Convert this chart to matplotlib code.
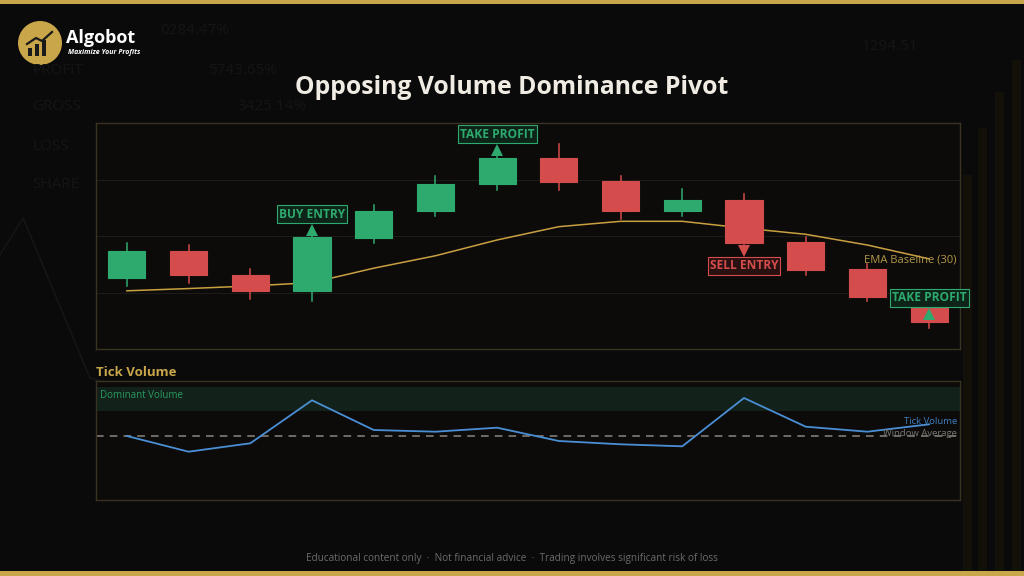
import matplotlib
matplotlib.use("Agg")
import matplotlib.pyplot as plt
from matplotlib.patches import Rectangle, Circle
import numpy as np

# ---------------- data ----------------
opens  = [98.52, 99.48, 98.63, 98.05, 99.94, 100.88, 101.83, 102.77, 101.95, 100.88, 101.27, 99.78, 98.83, 97.56]
closes = [99.48, 98.62, 98.05, 99.95, 100.90, 101.84, 102.77, 101.92, 100.88, 101.27, 99.75, 98.81, 97.85, 96.95]
highs  = [99.76, 99.67, 98.83, 100.14, 101.10, 102.12, 102.97, 103.25, 102.12, 101.66, 101.48, 99.95, 99.01, 98.06]
lows   = [98.24, 98.34, 97.77, 97.70, 99.76, 100.70, 101.64, 101.64, 100.61, 100.70, 99.70, 98.62, 97.70, 96.75]
ema    = [98.06, 98.14, 98.23, 98.35, 98.86, 99.30, 99.86, 100.33, 100.52, 100.52, 100.28, 100.06, 99.68, 99.19]

tick_volume = [640, 483, 567, 997, 700, 683, 723, 590, 557, 537, 1020, 733, 683, 757]
window_average = 643
dominant_band = [893, 1130]

sig_idx    = [3, 6, 10, 13]
sig_text   = ["BUY ENTRY", "TAKE PROFIT", "SELL ENTRY", "TAKE PROFIT"]
sig_dir    = ["up", "up", "down", "up"]
sig_price  = [100.21, 103.04, 99.47, 97.24]

title = "Opposing Volume Dominance Pivot"
footer = "Educational content only  \u00b7  Not financial advice  \u00b7  Trading involves significant risk of loss"

# ---------------- style ----------------
BG = "#0a0a0a"
PANEL = "#0c0b0a"
EDGE = "#3a3322"
GREEN = "#2eaa6e"
RED = "#d44c4c"
GOLD = "#c9a64a"
BLUE = "#4a8fd4"

plt.rcParams['font.family'] = ['Open Sans', 'DejaVu Sans']

W, H = 1024, 576
fig = plt.figure(figsize=(W / 100, H / 100), dpi=100, facecolor=BG)

# background decoration layer
bg = fig.add_axes([0, 0, 1, 1])
bg.set_xlim(0, W)
bg.set_ylim(H, 0)
bg.axis("off")
bg.set_facecolor(BG)
deco = "#151515"
for txt, x, y in [("PROFIT", 32, 70), ("GROSS", 32, 107), ("LOSS", 32, 146), ("SHARE", 32, 184),
                  ("0284.47%", 160, 30), ("5743.65%", 208, 70), ("3425.14%", 237, 107), ("1294.51", 862, 46)]:
    bg.text(x, y, txt, color=deco, fontsize=11, va="center", ha="left")
bg.plot([0, 23, 90, 105], [255, 218, 378, 382], color="#151515", lw=1.2)
for bx, btop in [(963, 175), (978, 128), (995, 92), (1012, 60)]:
    bg.add_patch(Rectangle((bx, btop), 9, 576 - btop, color="#13100a", lw=0))
# gold bars
bg.add_patch(Rectangle((0, 0), W, 4, color=GOLD, lw=0))
bg.add_patch(Rectangle((0, 571), W, 5, color=GOLD, lw=0))

# logo
bg.add_patch(Circle((40, 43), 22, color=GOLD, lw=0))
for i, hgt in enumerate([8, 12, 16]):
    bg.add_patch(Rectangle((28 + i * 7, 56 - hgt), 4, hgt, color="#1a1a1a", lw=0))
bg.plot([27, 36, 42, 52], [44, 38, 41, 32], color="#1a1a1a", lw=1.6)
bg.text(66, 38, "Algobot", color="white", fontsize=13, fontweight="bold", va="center", ha="left")
bg.text(68, 53, "Maximize Your Profits", color="white", fontsize=5.0, fontstyle="italic",
        fontweight="bold", va="center", ha="left")

bg.text(512, 88, title, color="#f0ece4", fontsize=17.8, fontweight="bold", ha="center", va="center")
bg.text(512, 558, footer, color="#6b6b6b", fontsize=7.2, ha="center", va="center")
bg.text(96, 373, "Tick Volume", color=GOLD, fontsize=9.5, fontweight="bold", ha="left", va="center")

# ---------------- price panel ----------------
ax = fig.add_axes([96 / W, 1 - 349 / H, 864 / W, 226 / H])
ax.set_facecolor(PANEL)
n = len(opens)
x = np.arange(n)
ax.set_xlim(-0.5, n - 0.5)
ax.set_ylim(96, 104)
for s in ax.spines.values():
    s.set_color(EDGE)
    s.set_linewidth(1)
ax.set_xticks([])
ax.set_yticks([98, 100, 102])
ax.tick_params(left=False, labelleft=False)
ax.grid(axis="y", color="#1c1b19", lw=0.8)
ax.set_axisbelow(True)

ax.plot(x, ema, color="#c9a040", lw=1.1, zorder=2)
bw = 0.6
for i in range(n):
    c = GREEN if closes[i] >= opens[i] else RED
    ax.plot([i, i], [lows[i], highs[i]], color=c, lw=1.1, zorder=3)
    lo = min(opens[i], closes[i])
    ax.add_patch(Rectangle((i - bw / 2, lo), bw, abs(closes[i] - opens[i]),
                           facecolor=c, edgecolor=c, lw=0.8, zorder=4))

ax.text(n - 0.55, ema[-1] - 0.05, "EMA Baseline (30)", color="#b39848", fontsize=8,
        ha="right", va="center", zorder=5)

for i, t, d, p in zip(sig_idx, sig_text, sig_dir, sig_price):
    if d == "up":
        col, fc, mk, off = GREEN, "#0e2419", "^", 16
    else:
        col, fc, mk, off = RED, "#2a1111", "v", -15
    ax.plot(i, p, marker=mk, color=col, ms=9, mew=0, zorder=6)
    ax.annotate(t, (i, p), xytext=(0, off), textcoords="offset pixels",
                ha="center", va="center", color=col, fontsize=8.6, fontweight="bold",
                bbox=dict(boxstyle="square,pad=0.18", fc=fc, ec=col, lw=0.8),
                zorder=7, annotation_clip=False)

# ---------------- volume panel ----------------
av = fig.add_axes([96 / W, 1 - 500 / H, 864 / W, 119 / H])
av.set_facecolor(PANEL)
av.set_xlim(-0.5, n - 0.5)
av.set_ylim(0, 1190)
for s in av.spines.values():
    s.set_color(EDGE)
    s.set_linewidth(1)
av.set_xticks([])
av.set_yticks([])
av.axhspan(dominant_band[0], dominant_band[1], color="#12221a", lw=0, zorder=1)
av.text(0.005, (dominant_band[0] + dominant_band[1]) / 2 + 30, "Dominant Volume",
        transform=av.get_yaxis_transform(), color="#2a9a62", fontsize=7,
        ha="left", va="center", zorder=5)
av.axhline(window_average, color="#8a8680", lw=1.1, ls=(0, (5, 4)), zorder=2)
av.plot(x, tick_volume, color=BLUE, lw=1.3, zorder=3)
av.annotate("Tick Volume", (n - 0.55, tick_volume[-1]), xytext=(0, 3), textcoords="offset pixels",
            color="#3f7fc0", fontsize=6.8, ha="right", va="center", zorder=5)
av.annotate("Window Average", (n - 0.55, window_average), xytext=(0, 2), textcoords="offset pixels",
            color="#7a7670", fontsize=6.8, ha="right", va="center", zorder=5)

fig.savefig("out.png", dpi=100, facecolor=BG)
